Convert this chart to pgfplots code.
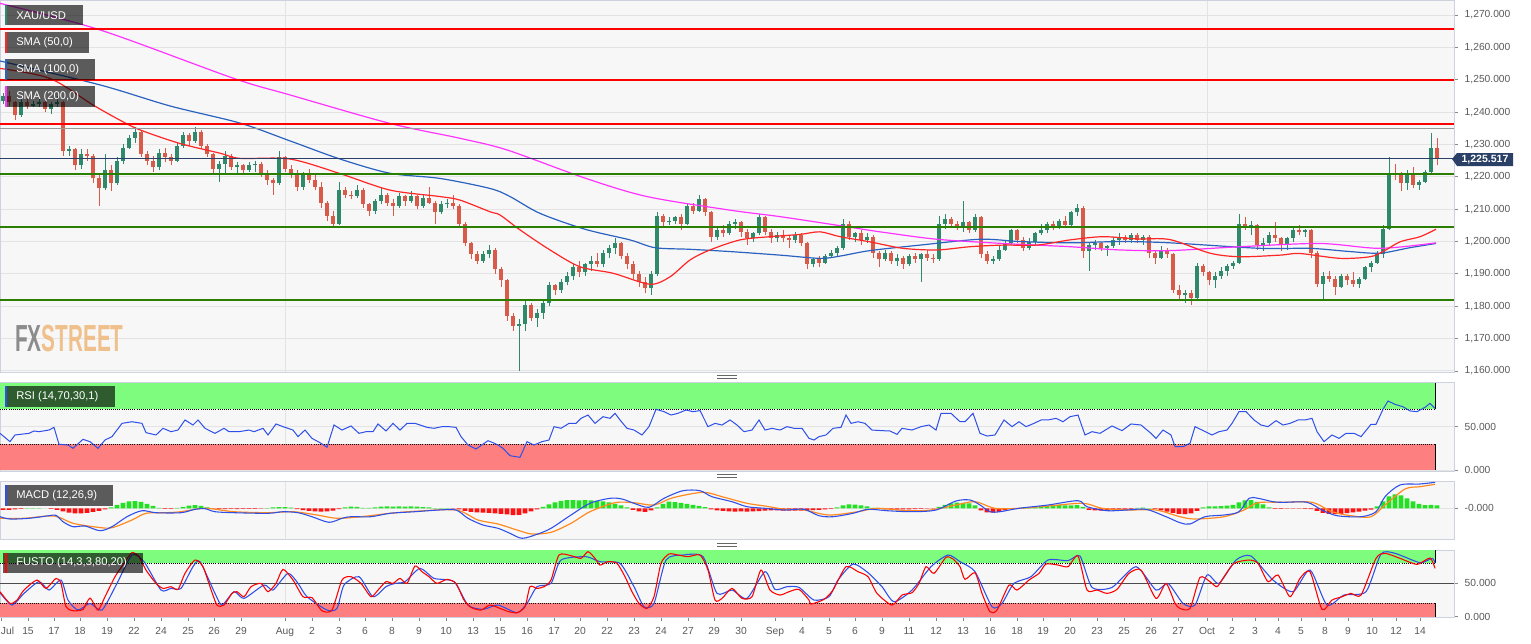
\documentclass[border=0pt]{standalone}
\usepackage{fontspec}
\setmainfont{Liberation Sans}
\usepackage{pgfplots}
\usepackage{pgfplotstable}
\pgfplotsset{compat=1.18}

\definecolor{panelbg}{HTML}{F7F7F7}
\definecolor{panelborder}{HTML}{CDD2DE}
\definecolor{gridc}{HTML}{E3E3E3}
\definecolor{tickc}{HTML}{8A8A8A}
\definecolor{labelc}{HTML}{5A5A5A}
\definecolor{candup}{HTML}{2F8A6C}
\definecolor{canddn}{HTML}{D85A48}
\definecolor{smared}{HTML}{FF2626}
\definecolor{smablue}{HTML}{2A62C0}
\definecolor{smamag}{HTML}{FF33FF}
\definecolor{resred}{HTML}{FF0000}
\definecolor{supgreen}{HTML}{2B7F00}
\definecolor{navy}{HTML}{2A4066}
\definecolor{obgreen}{HTML}{7EFC7E}
\definecolor{osred}{HTML}{FD7F7F}
\definecolor{rsiblue}{HTML}{2E4FE8}
\definecolor{macdorange}{HTML}{FF8A20}
\definecolor{histg}{HTML}{22E022}
\definecolor{histr}{HTML}{FF1010}
\definecolor{fxgray}{HTML}{8C8C8C}
\definecolor{fxorange}{HTML}{F0C08C}

% 4h candles, x in chart pixels
\pgfplotstableread{
x o h l c
3 1243.5 1246 1242.5 1245
9 1245 1246.5 1242 1243
15 1243 1243.5 1237.5 1239
21 1239 1244 1238.5 1243
27 1243 1244.5 1241 1242
33 1242 1243.5 1241.5 1242.5
39 1242.5 1244 1241.5 1243
45 1243 1243.5 1240 1241
51 1241 1243 1239.5 1242.5
57 1242.5 1245 1241.5 1243
63 1243 1243.5 1226.5 1228
69 1228 1229.5 1226.5 1228.5
75 1228.5 1229 1222 1223.5
81 1223.5 1228.5 1222.5 1227
87 1227 1228.5 1225 1226.5
93 1226.5 1227 1218 1219.5
99 1219.5 1221 1211 1216.5
105 1216.5 1227 1216 1222
111 1222 1223.5 1215.5 1218
117 1218 1226 1217.5 1225
123 1225 1230 1224 1229
129 1229 1233 1228.5 1232
135 1232 1235.5 1230.5 1234
141 1234 1234.5 1226 1227
147 1227 1228 1223.5 1225
153 1225 1226.5 1221.5 1223
159 1223 1228.5 1222 1227.5
165 1227.5 1229 1224.5 1226
171 1226 1227 1223.5 1225
177 1225 1230.5 1224.5 1229.5
183 1229.5 1234 1229 1233
189 1233 1233.5 1229.5 1231
195 1231 1235.5 1230.5 1234
201 1234 1234.5 1228.5 1229.5
207 1229.5 1230 1226 1227
213 1227 1227.5 1221 1222.5
219 1222.5 1225 1218.5 1224
225 1224 1228 1221 1226.5
231 1226.5 1227 1222 1223
237 1223 1224.5 1220.5 1223.5
243 1223.5 1224 1220.5 1222
249 1222 1224.5 1221.5 1223.5
255 1223.5 1225 1221.5 1224
261 1224 1224.5 1220 1221
267 1221 1222 1217.5 1219
273 1219 1219.5 1214.5 1218
279 1218 1228 1217.5 1226
285 1226 1226.5 1221.5 1222.5
291 1222.5 1223.5 1219.5 1221
297 1221 1222 1215.5 1217
303 1217 1221.5 1216 1220.5
309 1220.5 1222.5 1218 1219
315 1219 1221 1216 1217
321 1217 1218.5 1210.5 1212
327 1212 1212.5 1206.5 1208
333 1208 1209.5 1204.5 1205.5
339 1205.5 1218.5 1205 1216
345 1216 1217 1213.5 1214.5
351 1214.5 1215.5 1213 1214
357 1214 1217.5 1213.5 1216
363 1216 1216.5 1210.5 1211.5
369 1211.5 1212 1208 1209.5
375 1209.5 1213 1208.5 1212.5
381 1212.5 1216.5 1211.5 1214.5
387 1214.5 1215 1211 1212
393 1212 1213 1208 1211
399 1211 1215 1210.5 1214
405 1214 1214.5 1211 1212.5
411 1212.5 1215.5 1212 1214
417 1214 1214.5 1210 1211
423 1211 1214.5 1210.5 1213.5
429 1213.5 1217 1211.5 1212
435 1212 1212.5 1205.5 1209
441 1209 1212.5 1208.5 1211.5
447 1211.5 1213 1210.5 1212
453 1212 1214.5 1210 1211
459 1211 1211.5 1204.5 1205.5
465 1205.5 1206 1198.5 1199.5
471 1199.5 1200 1194.5 1196
477 1196 1197 1193 1194
483 1194 1197 1193.5 1196
489 1196 1199 1195 1197.5
495 1197.5 1198 1190 1191.5
501 1191.5 1192 1186 1188
507 1188 1188.5 1175.5 1177
513 1177 1178 1172.5 1174
519 1174 1176 1160 1174.5
525 1174.5 1182 1172.5 1180.5
531 1180.5 1181 1175.5 1176.5
537 1176.5 1179 1173.5 1178
543 1178 1182 1176 1181
549 1181 1187.5 1180 1186.5
555 1186.5 1187 1183.5 1185
561 1185 1188.5 1184 1187.5
567 1187.5 1190.5 1186.5 1189.5
573 1189.5 1193 1188 1192
579 1192 1194 1189 1190.5
585 1190.5 1193.5 1189.5 1193
591 1193 1195.5 1191 1194
597 1194 1196.5 1192 1193
603 1193 1197.5 1192 1196.5
609 1196.5 1199 1195 1198
615 1198 1201 1196 1199.5
621 1199.5 1200 1194.5 1195.5
627 1195.5 1196.5 1191.5 1193
633 1193 1194 1188.5 1190
639 1190 1191 1186 1187.5
645 1187.5 1189 1184 1185.5
651 1185.5 1191 1183.5 1190
657 1190 1209 1189.5 1208
663 1208 1208.5 1204.5 1206
669 1206 1207.5 1205 1206.5
675 1206.5 1208 1205.5 1207.5
681 1207.5 1208.5 1203.5 1205.5
687 1205.5 1212 1205 1211
693 1211 1212 1208.5 1209.5
699 1209.5 1214.5 1209 1213
705 1213 1213.5 1208 1209
711 1209 1209.5 1200 1201.5
717 1201.5 1204.5 1200.5 1203.5
723 1203.5 1205 1201.5 1202.5
729 1202.5 1206.5 1202 1205.5
735 1205.5 1207 1204 1206
741 1206 1206.5 1201.5 1203
747 1203 1204 1199 1201
753 1201 1203 1200 1202.5
759 1202.5 1208.5 1202 1207.5
765 1207.5 1208 1202 1203
771 1203 1204 1199.5 1201
777 1201 1203 1200 1202
783 1202 1203.5 1200 1201
789 1201 1202 1198 1200.5
795 1200.5 1203 1199.5 1202
801 1202 1202.5 1198.5 1199.5
807 1199.5 1200 1191.5 1193
813 1193 1195 1192 1194.5
819 1194.5 1195.5 1192 1193.5
825 1193.5 1196 1193 1195.5
831 1195.5 1197.5 1195 1196.5
837 1196.5 1198.5 1195.5 1198
843 1198 1207 1197.5 1205.5
849 1205.5 1206.5 1200.5 1201.5
855 1201.5 1203 1200 1202.5
861 1202.5 1203.5 1199 1200.5
867 1200.5 1202.5 1199.5 1201.5
873 1201.5 1202 1195 1196.5
879 1196.5 1197 1192 1194.5
885 1194.5 1197.5 1194 1196.5
891 1196.5 1197 1193 1194
897 1194 1196 1192.5 1195
903 1195 1195.5 1191.5 1193
909 1193 1196 1192.5 1195.5
915 1195.5 1196.5 1193.5 1194.5
921 1194.5 1196.5 1187.5 1196
927 1196 1197.5 1194 1195
933 1195 1196 1193.5 1194.5
939 1194.5 1208 1194 1205.5
945 1205.5 1208.5 1204 1207
951 1207 1207.5 1204.5 1205.5
957 1205.5 1206.5 1203.5 1204.5
963 1204.5 1212.5 1203 1206
969 1206 1206.5 1202.5 1203.5
975 1203.5 1208.5 1203 1207.5
981 1207.5 1208 1195 1196
987 1196 1197 1193 1194
993 1194 1195.5 1193 1194.5
999 1194.5 1198.5 1194 1197.5
1005 1197.5 1200.5 1197 1199.5
1011 1199.5 1204 1199 1203.5
1017 1203.5 1204 1199.5 1200.5
1023 1200.5 1201.5 1197 1198
1029 1198 1201 1197.5 1200
1035 1200 1203 1199 1202.5
1041 1202.5 1205.5 1202 1203.5
1047 1203.5 1206 1202.5 1205.5
1053 1205.5 1206.5 1203.5 1204.5
1059 1204.5 1207 1204 1206.5
1065 1206.5 1208 1204.5 1205
1071 1205 1209.5 1204.5 1209
1077 1209 1211.5 1208 1210.5
1083 1210.5 1211 1195 1197
1089 1197 1199.5 1191 1199
1095 1199 1200.5 1197.5 1199.5
1101 1199.5 1200 1197 1198
1107 1198 1199 1195.5 1198.5
1113 1198.5 1201.5 1198 1200.5
1119 1200.5 1202.5 1199 1201.5
1125 1201.5 1202 1199.5 1200.5
1131 1200.5 1202.5 1199.5 1202
1137 1202 1202.5 1199.5 1200.5
1143 1200.5 1202 1199 1201.5
1149 1201.5 1202 1195 1196.5
1155 1196.5 1197.5 1193 1195
1161 1195 1198.5 1194.5 1197.5
1167 1197.5 1198 1195 1196
1173 1196 1196.5 1184 1185
1179 1185 1186.5 1182 1183.5
1185 1183.5 1185 1181 1184
1191 1184 1185 1180.5 1182.5
1197 1182.5 1193.5 1182 1192.5
1203 1192.5 1193 1189.5 1190.5
1209 1190.5 1191 1186.5 1188
1215 1188 1190.5 1185.5 1189.5
1221 1189.5 1192 1188.5 1191
1227 1191 1193 1189.5 1192.5
1233 1192.5 1194 1191.5 1193.5
1239 1193.5 1208.5 1193 1205.5
1245 1205.5 1207.5 1203.5 1204.5
1251 1204.5 1206.5 1202 1205
1257 1205 1205.5 1197.5 1199
1263 1199 1201 1197 1199.5
1269 1199.5 1203 1198.5 1202
1275 1202 1206 1200 1201
1281 1201 1201.5 1197 1199
1287 1199 1201.5 1197.5 1201
1293 1201 1204.5 1200 1203.5
1299 1203.5 1205 1202 1203
1305 1203 1204 1201.5 1203.5
1311 1203.5 1204 1195 1196.5
1317 1196.5 1197 1186 1187
1323 1187 1190.5 1182 1189.5
1329 1189.5 1191 1187.5 1188.5
1335 1188.5 1189.5 1183.5 1186
1341 1186 1190 1185.5 1189.5
1347 1189.5 1190 1186.5 1188
1353 1188 1190.5 1186 1187
1359 1187 1189 1185.5 1188.5
1365 1188.5 1192.5 1188 1192
1371 1192 1194 1190.5 1193.5
1377 1193.5 1197 1193 1196
1383 1196 1205 1195 1204
1389 1204 1226 1203.5 1221
1395 1221 1224 1219 1220.5
1401 1220.5 1221.5 1215.5 1218
1407 1218 1222 1216 1220.5
1413 1220.5 1223 1216.5 1217.5
1419 1217.5 1219 1216 1218.5
1425 1218.5 1222 1218 1221.5
1431 1221.5 1233.5 1221 1229
1437 1229 1232 1223.5 1225.5
}\candles

\pgfplotstableread{
x v
0 1253.5
50 1250.4
93 1242.2
120 1237.5
140 1234.5
180 1230.3
220 1227.3
240 1225.7
290 1225.5
340 1221
390 1215.9
440 1213.9
460 1212.8
490 1209.2
500 1208.2
520 1203.6
550 1197.4
580 1192.2
613 1190.2
650 1186.8
670 1189.1
690 1194.3
710 1197.4
740 1200.5
770 1201.5
800 1202.2
820 1203
840 1201.5
870 1199.9
903 1197.9
937 1197.4
970 1198.4
1003 1198.9
1037 1198.9
1070 1200.5
1103 1201.5
1137 1200.8
1170 1200.6
1210 1196.4
1240 1195.3
1280 1195.8
1300 1196.3
1340 1194.8
1370 1195.3
1383 1196.9
1400 1199.9
1420 1201.5
1436 1203.8
}\smafifty

\pgfplotstableread{
x v
0 1255.8
100 1248.4
170 1241.9
240 1236.6
290 1231.1
340 1225.5
390 1221.1
440 1219.5
490 1216.4
510 1213.9
540 1208.7
585 1203.8
630 1200.5
655 1198.1
690 1197.6
730 1196.9
780 1195.8
820 1194.8
840 1195.5
870 1197.2
920 1198.9
980 1200.7
1020 1200
1070 1199.6
1120 1200
1170 1199.6
1260 1197.9
1310 1197.9
1350 1196.9
1380 1196.4
1410 1198.1
1436 1199.4
}\smahundred

\pgfplotstableread{
x v
0 1273.6
100 1265.4
233 1250.5
290 1245.3
390 1236.5
460 1231.9
507 1228.3
585 1219.6
647 1213.9
730 1209.7
780 1207.7
840 1204.9
880 1203
937 1200.7
1003 1199.4
1070 1198.4
1120 1197.4
1170 1197.2
1240 1198.4
1320 1199.4
1380 1197.9
1436 1199.6
}\smatwohundred

\pgfplotstableread{
x v
0 42.3
10 32.7
15 40.4
29 42.3
34 45
39 44.2
49 46.1
54 49.2
59 29.7
68 28.8
73 25
83 35.4
90 32.7
98 25
105 34.6
112 38.5
122 53.8
132 55.7
142 53.8
146 43.1
156 40.4
163 48.1
171 44.2
178 46.1
185 57.7
193 51.9
198 57.7
205 48.1
215 42.3
224 48.1
229 44.2
239 44.2
249 46.1
254 44.2
263 48.1
268 40.4
276 53.1
283 50
293 46.1
298 38.5
305 46.1
312 36.5
320 31.5
327 26.2
334 51.9
342 46.1
351 50.8
359 42.3
366 44.2
373 44.2
378 53.1
386 45
393 53.8
400 46.1
407 53.8
415 53.8
420 51.9
427 49.2
434 48.1
442 50
449 50
456 49.2
461 38.5
468 28.8
476 24.2
488 33.8
493 31.5
498 28.8
503 25
510 16.5
520 14.6
527 32.7
534 28.8
542 32.7
549 34.6
554 50
561 48.1
569 53.8
576 53.8
581 59.6
588 63.4
595 53.8
603 61.5
610 59.6
615 65.4
620 57.7
627 48.1
634 46.1
642 40.4
649 50
656 70
664 67.3
671 63.4
678 65.4
686 69.2
693 67.3
700 68.5
708 50
715 53.8
722 51.9
730 57.7
737 51.9
744 44.2
752 46.1
759 57.7
765 46.1
772 48.1
780 46.1
787 50
794 48.1
802 48.1
809 36.5
814 34.6
819 38.5
826 40.4
833 48.1
841 49.2
846 63.4
851 53.8
858 55.7
865 53.8
872 46.1
882 45.4
890 45
897 41.1
902 48.1
912 46.1
921 50
929 51.9
936 46.1
941 65.4
951 65.4
960 55.7
965 55.7
973 65.4
980 42.3
987 39.2
995 40.4
1004 57.7
1012 50
1019 55.7
1026 50
1034 53.8
1041 57.7
1048 57.7
1056 59.6
1063 55.7
1070 61.5
1078 63.4
1085 40.4
1092 44.2
1100 42.3
1112 50.8
1122 45.4
1131 53.1
1141 51.9
1151 42.3
1156 36.5
1163 46.1
1171 40.4
1175 26.9
1183 26.9
1190 30.8
1195 50
1202 46.1
1212 40.4
1219 44.2
1227 46.1
1232 53.8
1239 67.3
1246 67.3
1254 57.7
1261 51.9
1268 50
1276 56.9
1283 51.9
1290 53.8
1298 57.7
1305 57.7
1312 59.6
1317 44.2
1324 32.7
1332 40.4
1339 36.5
1346 42.3
1354 42.3
1361 38.5
1371 52.7
1376 52.7
1383 70
1388 79.6
1395 75.7
1403 73
1410 68.1
1417 67.3
1425 72.3
1430 76.9
1435 71.1
}\rsi

\pgfplotstableread{
x v
0 -8.4
10 -10.7
29 -10
49 -7.4
56 -7
63 -13.4
73 -18.4
85 -17.7
100 -22.4
112 -18.4
127 -8.4
142 -2.4
156 -4.4
181 -4.4
195 -1
205 -0.4
215 -3.4
234 -4.4
268 -5
283 -3.4
298 -4.4
312 -8.4
329 -14
342 -10
351 -8.4
371 -8.4
390 -5
415 -3.4
439 -1.7
456 -1.7
468 -10
483 -16.7
498 -20
510 -25
522 -30
537 -26
551 -20
571 -6.7
590 5
610 10
622 9.3
634 5
649 1
664 10
683 17.6
700 17.6
712 11.6
732 6.6
747 1.6
765 0
785 -1.7
804 -1
819 -7.4
833 -8.4
853 -5
868 -1
887 -2.4
912 -3.4
936 -1.7
956 7.3
970 8.3
980 3.3
990 -3.4
1000 -3.4
1019 0
1048 3.3
1078 7.6
1087 1.6
1107 -2.4
1127 -1.7
1146 -1
1166 -8.4
1180 -14.4
1190 -15.7
1205 -8.4
1224 -6.7
1239 -3.4
1249 10
1258 10
1273 6.6
1283 6
1307 6
1322 -1.7
1337 -7.4
1361 -8.4
1376 -3.4
1385 11.6
1400 23.3
1420 24.3
1435 26
}\macd

\pgfplotstableread{
x v
0 -10
24 -10
54 -7.7
73 -15
98 -19
112 -19.4
132 -11.7
146 -5
166 -4.4
181 -3.4
205 0
234 -3.4
268 -4.4
293 -3.4
317 -6.7
337 -10
361 -8.4
390 -5
415 -3
456 -1.7
478 -11.7
498 -15.7
517 -21.7
532 -25.7
551 -24
571 -15
590 -3.4
615 5.6
634 5.6
654 3.3
673 10.6
703 16
722 11.6
747 5
765 2.3
785 -1
804 -1.7
829 -6.7
858 -3.4
877 0
907 -2.4
931 -1.7
956 3.3
975 6.6
995 0
1019 0
1048 2.3
1083 5
1102 0
1127 -1.7
1156 -1.7
1180 -8.4
1195 -10.7
1224 -8.4
1244 -1.7
1258 5.6
1283 6
1312 6
1332 -3.4
1351 -7.4
1371 -8.4
1385 3.3
1405 19.3
1420 21.6
1435 24
}\signal

\pgfplotstableread{
x v
3 -1.5
9 -1.5
15 -1
21 -0.5
27 0.3
33 0.3
39 0.2
51 -0.5
57 -1.5
63 -3
69 -4.2
75 -5
81 -5
87 -4.5
93 -3.5
99 -2.5
105 -1
111 1
117 3.5
123 5.5
129 7
135 7.3
141 6.5
147 4.5
153 2.5
159 0.5
165 -0.5
171 -0.5
177 0.5
183 1.5
189 2.8
195 3.3
201 2.5
207 1
213 -0.3
219 -0.7
225 -0.7
231 -0.6
237 -0.7
243 -0.6
249 -0.5
255 -0.6
261 -0.4
267 0.3
273 1
279 1.3
285 1.2
291 0.6
297 -0.8
303 -1.8
309 -2.5
315 -3
321 -3.3
327 -3
333 -2.2
339 -0.8
345 1
351 1.7
357 1.5
363 0.5
369 0.5
375 1
381 1.7
387 2
393 1.8
399 2
405 1.7
411 1.9
417 1.8
423 1.3
429 1
435 0.3
441 0.2
447 0.1
453 -0.3
459 -1
465 -2.5
471 -3.5
477 -4
483 -4.3
489 -4.5
495 -5
501 -5.5
507 -6
513 -6.7
519 -6.5
525 -5
531 -3
537 -1
543 1.5
549 4
555 6
561 7.5
567 8.3
573 8.3
579 8
585 8.3
591 8
597 7.5
603 7
609 6
615 4.5
621 3
627 1
633 -1.5
639 -3
645 -3.5
651 -2
657 1
663 4.5
669 6.6
675 6.3
681 5.5
687 4.5
693 3.5
699 2.5
705 1.2
711 -1
717 -2
723 -2.5
729 -3
735 -3.3
741 -3
747 -3.2
753 -3
759 -2.8
765 -2.3
771 -2
777 -2
783 -2.3
789 -2.3
795 -2.2
801 -2.3
807 -2
813 -1.8
819 -1.5
825 -1
831 -0.5
837 1
843 3
849 4
855 3.6
861 3
867 2
873 0.5
879 -0.5
885 -1
891 -1
897 -1.2
903 -1
909 -1
915 -0.8
921 -0.6
927 -0.4
933 -0.2
939 1.5
945 3.5
951 5
957 5.6
963 5.5
969 5
975 3
981 -2
987 -4
993 -4.3
999 -3.5
1005 -2
1011 -0.5
1017 0.3
1023 0.5
1029 1
1035 1.5
1041 2
1047 2.5
1053 3
1059 3.3
1065 3
1071 3
1077 3.3
1083 1.5
1089 -1.5
1095 -2
1101 -2.3
1107 -2
1113 -1.7
1119 -1.5
1125 -1.2
1131 -0.8
1137 0.5
1143 0.8
1149 0.3
1155 -0.8
1161 -2
1167 -3.2
1173 -4.5
1179 -5.5
1185 -5.7
1191 -5
1197 -2.5
1203 1
1209 2
1215 2
1221 2.3
1227 2.6
1233 3.5
1239 6
1245 8
1251 8.3
1257 6.5
1263 4
1269 1
1275 -0.5
1281 -0.5
1287 -0.4
1293 -0.3
1299 -0.3
1305 -0.5
1311 -0.8
1317 -2.5
1323 -4.5
1329 -5.5
1335 -5.7
1341 -5.5
1347 -4.8
1353 -4
1359 -3.3
1365 -2.3
1371 -1.3
1377 2
1383 7
1389 12
1395 14
1401 13
1407 10
1413 7
1419 4.5
1425 3.3
1431 3.5
1437 3
}\hist

\pgfplotstableread{
x v
0 37.5
10 20
17 25
24 40
37 55
46 42.5
56 57.5
61 50
66 15
73 9
83 11
90 28
98 10
105 30
115 60
124 80
132 96
139 90
146 70
156 50
163 42.5
171 45
178 41
185 65
195 85
203 75
210 45
217 17.5
224 17.5
232 35
237 37.5
244 30
251 45
261 50
268 37.5
276 50
283 71
293 55
303 30
312 28.5
322 9
332 10
342 55
351 60
361 50
371 30
378 40
386 52.5
393 50
400 57.5
407 50
415 76
422 67.5
429 60
437 50
447 56
456 50
464 25
471 14
481 10
490 17.5
500 12.5
508 8
517 6
525 15
530 45
537 42.5
544 45
551 55
559 92.5
571 91.5
581 87.5
588 97.5
595 87.5
600 77.5
608 82.5
617 80
625 60
632 37.5
639 20
647 12.5
654 30
661 80
669 94
678 92.5
688 90
700 92.5
708 70
715 25
722 27.5
732 42.5
742 27.5
752 30
761 70
770 40
780 32.5
789 37.5
799 41
809 25
811 19
824 26
833 40
846 75
858 67.5
868 60
877 35
892 17.5
902 32.5
912 36
919 50
926 75
934 65
946 89
953 86.5
960 75
965 56
975 66
982 35
990 7.5
997 10
1009 47.5
1017 40
1029 55
1039 65
1046 79
1058 77.5
1068 75
1078 91
1087 40
1097 40
1107 35
1117 41
1129 65
1141 70
1156 27.5
1166 50
1175 20
1180 12.5
1190 12.5
1200 59
1210 52.5
1217 45
1224 60
1234 80
1249 85
1258 80
1268 52.5
1278 62.5
1290 30
1300 57.5
1310 67.5
1322 11
1332 25
1342 30
1351 35
1361 32.5
1376 87.5
1385 95
1400 87.5
1417 78.5
1430 88
1435 72.5
}\stochk

\pgfplotstableread{
x v
0 36
12 17.5
24 35
39 52.5
49 40
61 55
68 25
78 10
90 20
102 10
117 50
132 92.5
144 82.5
161 40
171 42.5
181 42.5
193 75
200 82.5
215 35
222 17.5
234 37.5
244 27.5
264 47.5
273 40
288 65
298 50
307 30
327 10
337 12.5
344 47.5
359 60
373 30
386 45
395 50
405 52.5
420 72.5
434 57.5
454 52.5
468 17.5
483 11
498 17.5
517 6
527 20
537 45
551 50
561 85
586 90
600 82.5
620 80
634 45
644 15
654 20
666 85
683 92.5
703 90
717 35
732 40
747 27.5
765 67.5
775 41
787 45
799 44
814 25
829 30
838 55
853 79
868 66
882 45
894 22.5
912 40
931 75
948 92.5
960 82.5
975 67.5
992 15
1002 20
1014 50
1031 60
1048 85
1068 84
1080 91
1092 44
1112 44
1136 75
1156 40
1168 50
1183 20
1195 17.5
1207 62.5
1219 50
1236 85
1251 91
1273 55
1293 37.5
1310 70
1327 17.5
1344 32.5
1366 37.5
1381 94
1395 95
1420 81
1432 87.5
1435 81
}\stochd

\pgfplotsset{
  panel/.style={
    scale only axis, width=1090.5pt, xmin=0, xmax=1454,
    axis background/.style={fill=panelbg},
    axis line style={draw=panelborder, line width=0.75pt},
    grid style={draw=gridc, line width=0.75pt},
    tick align=outside, major tick length=3pt,
    ytick pos=right, yticklabel pos=right,
    tick style={draw=tickc, line width=0.6pt},
    tick label style={font=\fontsize{7.7}{9}\selectfont, text=labelc},
    yticklabel style={xshift=1.5pt, /pgf/number format/.cd, fixed, fixed zerofill,
      precision=3, 1000 sep={,}, assume math mode=true},
    scaled y ticks=false,
  },
  nox/.style={xtick={285,1207}, xticklabels={}, xmajorgrids,
    major x tick style={draw=none}},
  wick/.style={draw=none, mark=none, forget plot,
    error bars/.cd, y dir=plus, y explicit, error mark=none,
    error bar style={line width=0.75pt, draw=#1}},
  body/.style={draw=none, mark=none, forget plot,
    error bars/.cd, y dir=plus, y explicit, error mark=none,
    error bar style={line width=2.5pt, draw=#1}},
}

\begin{document}
\begin{tikzpicture}
\useasboundingbox (0,0) rectangle (1148.25pt,-482.25pt);
\fill[white] (0,0) rectangle (1148.25pt,-482.25pt);

% price panel
\begin{axis}[panel, nox, at={(0pt,0pt)}, anchor=north west, height=279pt,
  ymin=1159.68, ymax=1274.64, ytick={1160,1170,...,1270}, ymajorgrids]
  \addplot[wick=candup] table[x=x, y expr={\thisrow{c}>=\thisrow{o} ? \thisrow{l} : nan},
    y error plus expr={\thisrow{h}-\thisrow{l}}] {\candles};
  \addplot[wick=canddn] table[x=x, y expr={\thisrow{c}<\thisrow{o} ? \thisrow{l} : nan},
    y error plus expr={\thisrow{h}-\thisrow{l}}] {\candles};
  \addplot[body=candup] table[x=x, y expr={\thisrow{c}>=\thisrow{o} ? \thisrow{o} : nan},
    y error plus expr={max(\thisrow{c}-\thisrow{o},0.3)}] {\candles};
  \addplot[body=canddn] table[x=x, y expr={\thisrow{c}<\thisrow{o} ? \thisrow{c} : nan},
    y error plus expr={\thisrow{o}-\thisrow{c}}] {\candles};
  % moving averages
  \addplot[smablue, line width=0.9pt, smooth, tension=0.5] table[x=x, y=v] {\smahundred};
  \addplot[smamag, line width=0.9pt, smooth, tension=0.5] table[x=x, y=v] {\smatwohundred};
  \addplot[smared, line width=0.9pt, smooth, tension=0.5] table[x=x, y=v] {\smafifty};
  % levels
  \addplot[resred, line width=1.5pt] coordinates {(0,1265.7) (1454,1265.7)};
  \addplot[resred, line width=1.5pt] coordinates {(0,1250) (1454,1250)};
  \addplot[resred, line width=1.5pt] coordinates {(0,1236.4) (1454,1236.4)};
  \addplot[black!40, line width=0.75pt] coordinates {(0,1234.8) (1454,1234.8)};
  \addplot[navy, line width=0.75pt] coordinates {(0,1225.517) (1454,1225.517)};
  \addplot[supgreen, line width=1.5pt] coordinates {(0,1220.96) (1454,1220.96)};
  \addplot[supgreen, line width=1.5pt] coordinates {(0,1204.6) (1454,1204.6)};
  \addplot[supgreen, line width=1.5pt] coordinates {(0,1182) (1454,1182)};
\end{axis}

% RSI panel
\begin{axis}[panel, nox, at={(0pt,-286.5pt)}, anchor=north west, height=66.75pt,
  ymin=-1.15, ymax=101.5, ytick={0,50}, ymajorgrids]
  \fill[obgreen] (axis cs:0,70) rectangle (axis cs:1435,100);
  \fill[osred] (axis cs:0,0) rectangle (axis cs:1435,30);
  \draw[black, densely dotted, line width=0.6pt] (axis cs:0,70) -- (axis cs:1435,70);
  \draw[black, densely dotted, line width=0.6pt] (axis cs:0,30) -- (axis cs:1435,30);
  \draw[black, line width=0.75pt] (axis cs:1435,70) -- (axis cs:1435,100);
  \draw[black, line width=0.75pt] (axis cs:1435,0) -- (axis cs:1435,30);
  \addplot[rsiblue, line width=0.75pt] table[x=x, y=v] {\rsi};
\end{axis}

% MACD panel
\begin{axis}[panel, nox, at={(0pt,-360.75pt)}, anchor=north west, height=43.5pt,
  ymin=-30.7, ymax=27.3, ytick={0}, yticklabels={-0.000}, ymajorgrids]
  \addplot[ybar, bar width=3.5pt, bar shift=0pt, fill=histg, draw=none]
    table[x=x, y expr={\thisrow{v}>0 ? \thisrow{v} : nan}] {\hist};
  \addplot[ybar, bar width=3.5pt, bar shift=0pt, fill=histr, draw=none]
    table[x=x, y expr={\thisrow{v}<0 ? \thisrow{v} : nan}] {\hist};
  \addplot[macdorange, line width=0.9pt, smooth, tension=0.5] table[x=x, y=v] {\signal};
  \addplot[rsiblue, line width=0.8pt, smooth, tension=0.5] table[x=x, y=v] {\macd};
\end{axis}

% stochastic panel
\begin{axis}[panel, at={(0pt,-412.5pt)}, anchor=north west, height=50.5pt,
  ymin=-0.9, ymax=100, ytick={0,50},
  xtick pos=bottom,
  xtick={1,28,54,80,107,134,161,188,214,241,285,312,339,365,392,419,446,473,500,527,
    554,580,607,634,661,688,714,741,775,802,829,855,882,909,936,963,990,1017,1043,1070,
    1097,1124,1151,1178,1207,1232,1255,1278,1301,1325,1348,1372,1396,1420},
  xticklabels={\makebox[0pt][l]{Jul},15,17,18,19,22,24,25,26,29,Aug,2,3,6,8,9,10,13,15,16,
    17,20,22,23,24,27,29,30,Sep,4,5,6,9,11,12,13,16,18,19,20,23,25,26,27,Oct,2,3,4,5,8,
    9,10,12,14},
  xticklabel style={yshift=-1pt}]
  \draw[gridc, line width=0.75pt] (axis cs:285,-0.9) -- (axis cs:285,100);
  \draw[gridc, line width=0.75pt] (axis cs:1207,-0.9) -- (axis cs:1207,100);
  \fill[obgreen] (axis cs:0,80) rectangle (axis cs:1435,100);
  \fill[osred] (axis cs:0,0) rectangle (axis cs:1435,20);
  \draw[black, densely dotted, line width=0.6pt] (axis cs:0,80) -- (axis cs:1435,80);
  \draw[black, densely dotted, line width=0.6pt] (axis cs:0,20) -- (axis cs:1435,20);
  \draw[black!70, line width=0.75pt] (axis cs:0,50) -- (axis cs:1454,50);
  \draw[black, line width=0.75pt] (axis cs:1435,80) -- (axis cs:1435,100);
  \draw[black, line width=0.75pt] (axis cs:1435,0) -- (axis cs:1435,20);
  \addplot[rsiblue, line width=0.8pt, smooth, tension=0.4] table[x=x, y=v] {\stochd};
  \addplot[resred, line width=0.8pt, smooth, tension=0.4] table[x=x, y=v] {\stochk};
\end{axis}

% overlays in chart pixels
\begin{scope}[x=0.75pt, y=-0.75pt,
  lab/.style={anchor=west, inner sep=0pt, text=white, font=\fontsize{8.4}{9}\selectfont}]
  \node[anchor=west, inner sep=0pt] at (15,339) {\scalebox{0.55}[1]{\fontsize{28.3}{30}\selectfont\bfseries
    \textcolor{fxgray}{FX}\textcolor{fxorange}{STREET}}};

  \fill[black, opacity=0.63] (5,5) rectangle (83,25);
  \fill[candup] (5,5) rectangle (7,25);
  \node[lab] at (16,15) {XAU/USD};
  \fill[black, opacity=0.63] (5,32) rectangle (89,53);
  \fill[smared] (5,32) rectangle (7,53);
  \node[lab] at (16,42.5) {SMA (50,0)};
  \fill[black, opacity=0.63] (5,59) rectangle (95,80);
  \fill[smablue] (5,59) rectangle (7,80);
  \node[lab] at (16,69.5) {SMA (100,0)};
  \fill[black, opacity=0.63] (5,86) rectangle (95,107);
  \fill[smamag] (5,86) rectangle (7,107);
  \node[lab] at (16,96.5) {SMA (200,0)};

  \fill[black, opacity=0.63] (5,386) rectangle (115,406.5);
  \fill[rsiblue] (5,386) rectangle (7,406.5);
  \node[lab] at (16,396.3) {RSI (14,70,30,1)};
  \fill[black, opacity=0.63] (5,485) rectangle (113,506);
  \fill[rsiblue] (5,485) rectangle (7,506);
  \node[lab] at (16,495.5) {MACD (12,26,9)};
  \fill[black, opacity=0.63] (3,552.7) rectangle (143,573.3);
  \fill[resred] (5,553) rectangle (7,573);
  \node[lab] at (16,563) {FUSTO (14,3,3,80,20)};

  \foreach \yy in {375.5,474.5,543.5}{
    \draw[black!60, line width=0.75pt] (717,\yy) -- (737,\yy);
    \draw[black!60, line width=0.75pt] (717,\yy+2.5) -- (737,\yy+2.5);
  }

  \fill[navy] (1452,159) -- (1457,153) -- (1513,153) -- (1513,166) -- (1457,166) -- cycle;
  \node[text=white, inner sep=0pt, font=\fontsize{7.9}{9}\selectfont\bfseries] at (1485,159.6) {1,225.517};
\end{scope}
\end{tikzpicture}
\end{document}
